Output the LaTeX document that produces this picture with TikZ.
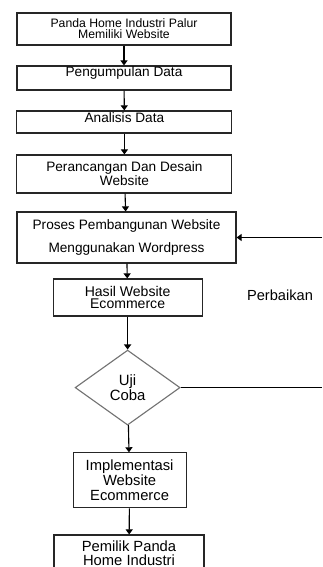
\documentclass[tikz,border=0pt]{standalone}
\usepackage{fontspec}
\setmainfont{Liberation Sans}
\usetikzlibrary{arrows.meta,shapes.geometric}

\begin{document}
\begin{tikzpicture}[font=\fontsize{9.7}{8.6}\selectfont,line width=0.8pt,
  >={Triangle[length=3.6pt,width=5pt]},
  box/.style={draw=black!85,align=center,inner sep=0pt,fill=white},
  dec/.style={draw=black!55,diamond,align=center,inner sep=0pt,aspect=1.4}]
  \useasboundingbox (0,0) rectangle (8.05,-14.175);
  \node[box,minimum width=5.35cm,minimum height=0.8cm,
        font=\fontsize{8.7}{7.8}\selectfont] (awal) at (3.10,-0.725)
    {Panda Home Industri Palur\\ Memiliki Website};
  \node[box,minimum width=5.35cm,text height=0.275cm,text depth=0.325cm]
    (data) at (3.10,-1.95) {Pengumpulan Data};
  \node[box,minimum width=5.375cm,text height=0.275cm,text depth=0.275cm]
    (analisis) at (3.11,-3.05) {Analisis Data};
  \node[box,minimum width=5.375cm,minimum height=0.95cm] (desain) at (3.11,-4.35)
    {Perancangan Dan Desain\\ Website};
  \node[box,minimum width=5.475cm,minimum height=1.275cm,
        font=\fontsize{9.7}{16.3}\selectfont] (proses) at (3.1625,-5.9375)
    {Proses Pembangunan Website\\ Menggunakan Wordpress};
  \node[box,minimum width=3.725cm,minimum height=0.925cm,
        font=\fontsize{10}{8.6}\selectfont] (hasil) at (3.19,-7.4375)
    {Hasil Website\\ Ecommerce};
  \node[dec,minimum width=2.625cm,minimum height=1.875cm,
        font=\fontsize{10.6}{10.6}\selectfont] (uji) at (3.19,-9.69)
    {Uji\\ Coba};
  \node[box,minimum width=2.825cm,minimum height=1.375cm,
        font=\fontsize{10.5}{10.6}\selectfont] (implementasi) at (3.24,-12.01)
    {Implementasi\\ Website\\ Ecommerce};
  \node[box,minimum width=3.75cm,minimum height=0.9cm,
        font=\fontsize{10.5}{10}\selectfont] (pemilik) at (3.225,-13.825)
    {Pemilik Panda\\ Home Industri};
  \node[font=\fontsize{10.4}{10}\selectfont] (perbaikan) at (7.0,-7.375) {Perbaikan};
  \coordinate (fb1) at (8.05,-9.69);
  \coordinate (fb2) at (8.05,-5.9375);
  \draw[->] (awal) -- (data);
  \draw[->] (data) -- (analisis);
  \draw[->] (analisis) -- (desain);
  \draw[->] (desain) -- (proses);
  \draw[->] (proses) -- (hasil);
  \draw[->] (hasil) -- (uji);
  \draw[->] (uji) -- (implementasi);
  \draw[->] (implementasi) -- (pemilik);
  \draw (uji) -- (fb1);
  \draw[->] (fb2) -- (proses);
\end{tikzpicture}
\end{document}
